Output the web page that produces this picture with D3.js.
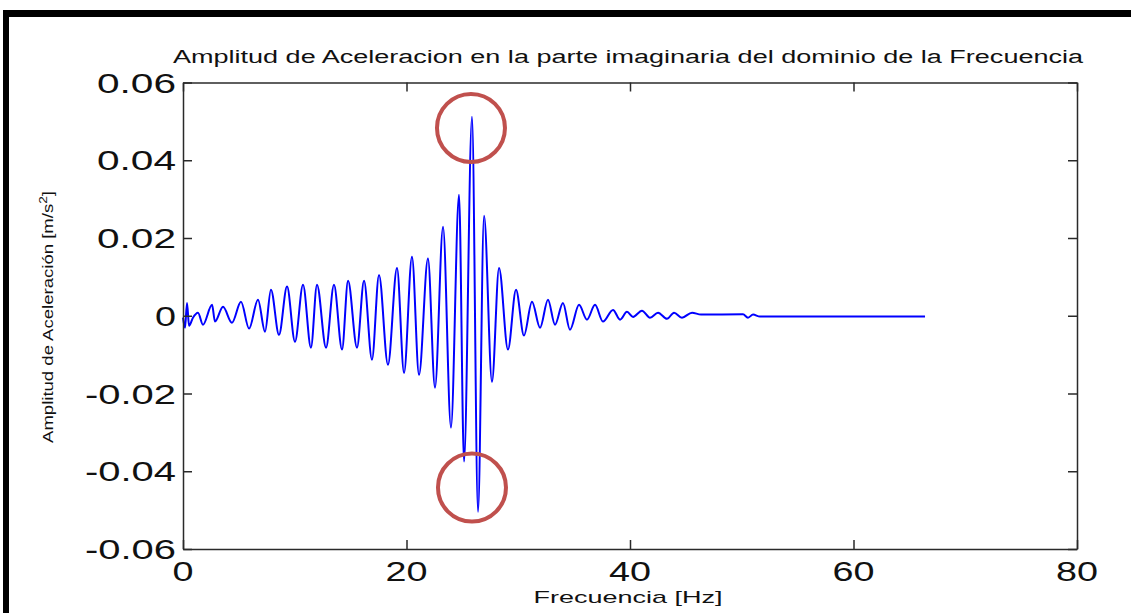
<!DOCTYPE html>
<html>
<head>
<meta charset="utf-8">
<script src="https://cdn.jsdelivr.net/npm/d3@7"></script>
<style>
  html, body { margin: 0; padding: 0; background: #fff; }
  svg { display: block; font-family: "Liberation Sans", Arial, sans-serif; }
</style>
</head>
<body>
<div id="chart"></div>
<script>
// Frequency (Hz) and imaginary acceleration amplitude
const freqHz = [
    0.00, 0.18, 0.36, 0.54, 0.89, 1.34, 1.79, 2.60, 2.86, 3.58,
    4.38, 5.19, 5.91, 6.71, 7.34, 7.87, 8.59, 9.31, 10.02, 10.74,
    11.45, 11.99, 12.80, 13.51, 14.23, 14.77, 15.57, 16.20, 16.91, 17.54,
    18.34, 19.15, 19.78, 20.49, 21.12, 21.92, 22.55, 23.27, 23.98, 24.70,
    25.15, 25.86, 26.40, 26.94, 27.65, 28.28, 29.08, 29.80, 30.51, 31.23,
    31.95, 32.66, 33.29, 34.00, 34.63, 35.44, 36.15, 36.87, 37.58, 38.48,
    39.11, 39.73, 40.27, 41.07, 41.79, 42.51, 43.31, 43.94, 44.65, 45.55,
    46.35, 50.11, 50.56, 51.01, 51.63, 66.40
];
const accelAmp = [
    -0.0005, -0.0031, 0.0033, -0.0026, -0.0005, 0.0008, -0.0023, 0.0028, -0.0015, 0.0023,
    -0.0018, 0.0036, -0.0033, 0.0041, -0.0041, 0.0067, -0.0049, 0.0075, -0.0067, 0.0080,
    -0.0082, 0.0080, -0.0082, 0.0080, -0.0087, 0.0090, -0.0082, 0.0090, -0.0113, 0.0105,
    -0.0126, 0.0123, -0.0147, 0.0152, -0.0152, 0.0147, -0.0185, 0.0229, -0.0288, 0.0311,
    -0.0375, 0.0512, -0.0504, 0.0257, -0.0170, 0.0123, -0.0087, 0.0067, -0.0051, 0.0036,
    -0.0031, 0.0041, -0.0023, 0.0033, -0.0036, 0.0028, -0.0010, 0.0028, -0.0015, 0.0015,
    -0.0010, 0.0010, -0.0003, 0.0013, -0.0005, 0.0008, -0.0008, 0.0008, -0.0005, 0.0008,
    0.0003, 0.0004, -0.0005, 0.0003, -0.0002, -0.0002
];

const xTicks = [0, 20, 40, 60, 80];
const yTicks = [-0.06, -0.04, -0.02, 0, 0.02, 0.04, 0.06];
const yTickLabels = ['-0.06', '-0.04', '-0.02', '0', '0.02', '0.04', '0.06'];

// red circles marking the max / min peaks
const markFreq = [25.77, 25.86];
const markAmp = [0.0483, -0.0442];

const width = 1131, height = 613;
const plotLeft = 183, plotRight = 1077, plotTop = 82.5, plotBottom = 549;

const svg = d3.select('#chart').append('svg')
    .attr('width', width)
    .attr('height', height);

const x = d3.scaleLinear().domain([0, 80]).range([plotLeft, plotRight]);
const y = d3.scaleLinear().domain([-0.06, 0.06]).range([plotBottom, plotTop]);

// black frame of the screenshot (top and left)
svg.append('rect').attr('x', 3).attr('y', 10).attr('width', width - 3).attr('height', 7).attr('fill', '#000');
svg.append('rect').attr('x', 3).attr('y', 10).attr('width', 6).attr('height', height - 10).attr('fill', '#000');

// signal
const points = freqHz.map((f, i) => [f, accelAmp[i]]);
const line = d3.line()
    .x(d => x(d[0]))
    .y(d => y(d[1]))
    .curve(d3.curveMonotoneX);

svg.append('path')
    .datum(points)
    .attr('d', line)
    .attr('fill', 'none')
    .attr('stroke', '#0000ff')
    .attr('stroke-width', 2)
    .attr('stroke-linejoin', 'round');

// axes, MATLAB style: ticks inside on all four sides
const tickLen = 9;
const axisColor = '#2a2a2a';

function styleAxis(g) {
    g.selectAll('line,path').attr('stroke', axisColor).attr('stroke-width', 1.5);
}

svg.append('g')
    .attr('transform', `translate(0,${plotBottom})`)
    .call(d3.axisBottom(x).tickValues(xTicks).tickSizeInner(-tickLen).tickSizeOuter(0).tickFormat(''))
    .call(styleAxis);
svg.append('g')
    .attr('transform', `translate(0,${plotTop})`)
    .call(d3.axisTop(x).tickValues(xTicks).tickSizeInner(-tickLen).tickSizeOuter(0).tickFormat(''))
    .call(styleAxis);
svg.append('g')
    .attr('transform', `translate(${plotLeft},0)`)
    .call(d3.axisLeft(y).tickValues(yTicks).tickSizeInner(-tickLen).tickSizeOuter(0).tickFormat(''))
    .call(styleAxis);
svg.append('g')
    .attr('transform', `translate(${plotRight},0)`)
    .call(d3.axisRight(y).tickValues(yTicks).tickSizeInner(-tickLen).tickSizeOuter(0).tickFormat(''))
    .call(styleAxis);

// tick labels (stretched wide, as in the picture)
svg.append('g').selectAll('text')
    .data(yTicks)
    .enter().append('text')
    .attr('x', plotLeft - 7)
    .attr('y', d => y(d) + 10)
    .attr('text-anchor', 'end')
    .attr('font-size', 28)
    .attr('fill', '#111')
    .attr('textLength', (d, i) => yTickLabels[i].length === 1 ? 21 : (yTickLabels[i][0] === '-' ? 91 : 79))
    .attr('lengthAdjust', 'spacingAndGlyphs')
    .text((d, i) => yTickLabels[i]);

svg.append('g').selectAll('text')
    .data(xTicks)
    .enter().append('text')
    .attr('x', d => x(d))
    .attr('y', 581)
    .attr('text-anchor', 'middle')
    .attr('font-size', 27)
    .attr('fill', '#111')
    .attr('textLength', d => String(d).length * 21)
    .attr('lengthAdjust', 'spacingAndGlyphs')
    .text(d => d);

// title and axis labels
svg.append('text')
    .attr('x', 628)
    .attr('y', 63)
    .attr('text-anchor', 'middle')
    .attr('font-size', 18)
    .attr('fill', '#111')
    .attr('textLength', 910)
    .attr('lengthAdjust', 'spacingAndGlyphs')
    .text('Amplitud de Aceleracion en la parte imaginaria del dominio de la Frecuencia');

svg.append('text')
    .attr('x', 628)
    .attr('y', 603)
    .attr('text-anchor', 'middle')
    .attr('font-size', 17)
    .attr('fill', '#111')
    .attr('textLength', 189)
    .attr('lengthAdjust', 'spacingAndGlyphs')
    .text('Frecuencia [Hz]');

const yLabel = svg.append('text')
    .attr('transform', 'translate(53,317) rotate(-90)')
    .attr('text-anchor', 'middle')
    .attr('font-size', 15)
    .attr('fill', '#111')
    .attr('textLength', 252)
    .attr('lengthAdjust', 'spacingAndGlyphs');
yLabel.append('tspan').text('Amplitud de Aceleración [m/s');
yLabel.append('tspan').attr('dy', -6).attr('font-size', 11).text('2');
yLabel.append('tspan').attr('dy', 6).text(']');

// peak markers
svg.append('g').selectAll('circle')
    .data(markFreq)
    .enter().append('circle')
    .attr('cx', d => x(d))
    .attr('cy', (d, i) => y(markAmp[i]))
    .attr('r', 34)
    .attr('fill', 'none')
    .attr('stroke', '#c0504d')
    .attr('stroke-width', 4);
</script>
</body>
</html>
